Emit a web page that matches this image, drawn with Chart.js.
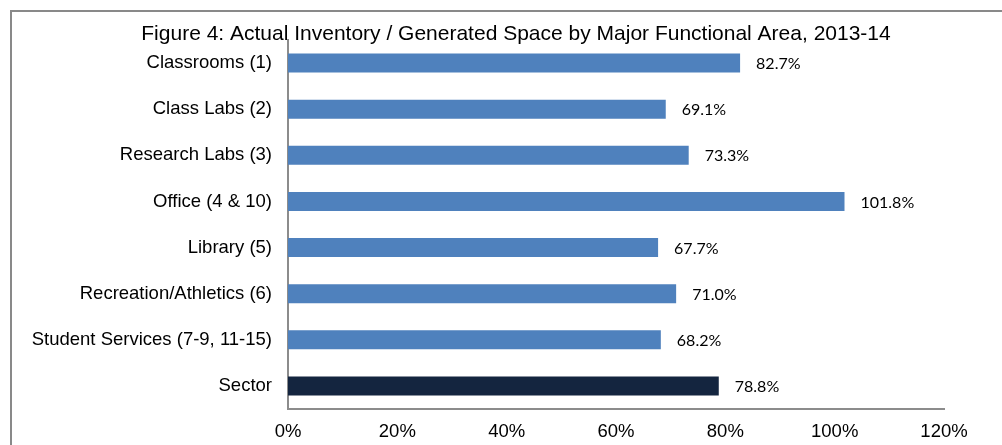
<!DOCTYPE html>
<html lang="en">
<head>
  <meta charset="UTF-8">
  <title>Figure 4</title>
  <script src="https://cdn.jsdelivr.net/npm/chart.js"></script>
  <style>
    html, body { margin: 0; padding: 0; background: #fff; }
    #wrap { position: relative; width: 1002px; height: 445px; overflow: hidden; }
    #frame { position: absolute; left: 10px; top: 10px; width: 1100px; height: 500px;
             border-left: 2px solid #898989; border-top: 2px solid #898989; }
    canvas { position: absolute; left: 0; top: 0; }
  </style>
</head>
<body>
  <div id="wrap">
    <div id="frame"></div>
    <canvas id="chart" width="1002" height="445"></canvas>
  </div>

  <script>
    const title = 'Figure 4: Actual Inventory / Generated Space by Major Functional Area, 2013-14';
    const categories = [
      'Classrooms (1)',
      'Class Labs (2)',
      'Research Labs (3)',
      'Office (4 & 10)',
      'Library (5)',
      'Recreation/Athletics (6)',
      'Student Services (7-9, 11-15)',
      'Sector'
    ];
    const ratios = [82.7, 69.1, 73.3, 101.8, 67.7, 71.0, 68.2, 78.8];
    const xTicks = [0, 20, 40, 60, 80, 100, 120];

    const barColors = categories.map(c => c === 'Sector' ? '#14253f' : '#4f81bd');
    const arial = '"Liberation Sans", Arial, sans-serif';

    // value labels to the right of each bar, plus the title (it is not centred on the plot)
    const annotate = {
      id: 'annotate',
      afterDatasetsDraw(chart) {
        const ctx = chart.ctx;
        const meta = chart.getDatasetMeta(0);
        ctx.save();
        ctx.font = '16px Lato, "Open Sans", sans-serif';
        ctx.fillStyle = '#000';
        ctx.textAlign = 'left';
        ctx.textBaseline = 'middle';
        meta.data.forEach((bar, i) => {
          ctx.fillText(ratios[i].toFixed(1) + '%', bar.x + 16, bar.y + 1);
        });

        ctx.font = '21px ' + arial;
        ctx.textAlign = 'center';
        ctx.textBaseline = 'alphabetic';
        ctx.fillText(title, 516, 40);
        ctx.restore();
      }
    };

    new Chart(document.getElementById('chart').getContext('2d'), {
      type: 'bar',
      data: {
        labels: categories,
        datasets: [{
          data: ratios,
          backgroundColor: barColors,
          borderWidth: 0,
          categoryPercentage: 1,
          barPercentage: 0.41
        }]
      },
      options: {
        indexAxis: 'y',
        responsive: false,
        animation: false,
        layout: { padding: { left: 20, right: 58, top: 40, bottom: 0 } },
        plugins: {
          legend: { display: false },
          tooltip: { enabled: false },
          title: { display: false }
        },
        scales: {
          x: {
            min: 0,
            max: 120,
            afterBuildTicks: scale => { scale.ticks = xTicks.map(v => ({ value: v })); },
            afterFit: scale => { scale.height = 36; },
            grid: { display: false, drawTicks: false },
            border: { display: true, color: '#8c8c8c', width: 2 },
            ticks: {
              padding: 12,
              color: '#000',
              font: { family: arial, size: 18.5 },
              callback: v => v + '%'
            }
          },
          y: {
            afterFit: scale => { scale.width = 268; },
            grid: { display: false, drawTicks: false },
            border: { display: true, color: '#8c8c8c', width: 2 },
            ticks: {
              padding: 16,
              color: '#000',
              font: { family: arial, size: 18.5 }
            }
          }
        }
      },
      plugins: [annotate]
    });
  </script>
</body>
</html>
